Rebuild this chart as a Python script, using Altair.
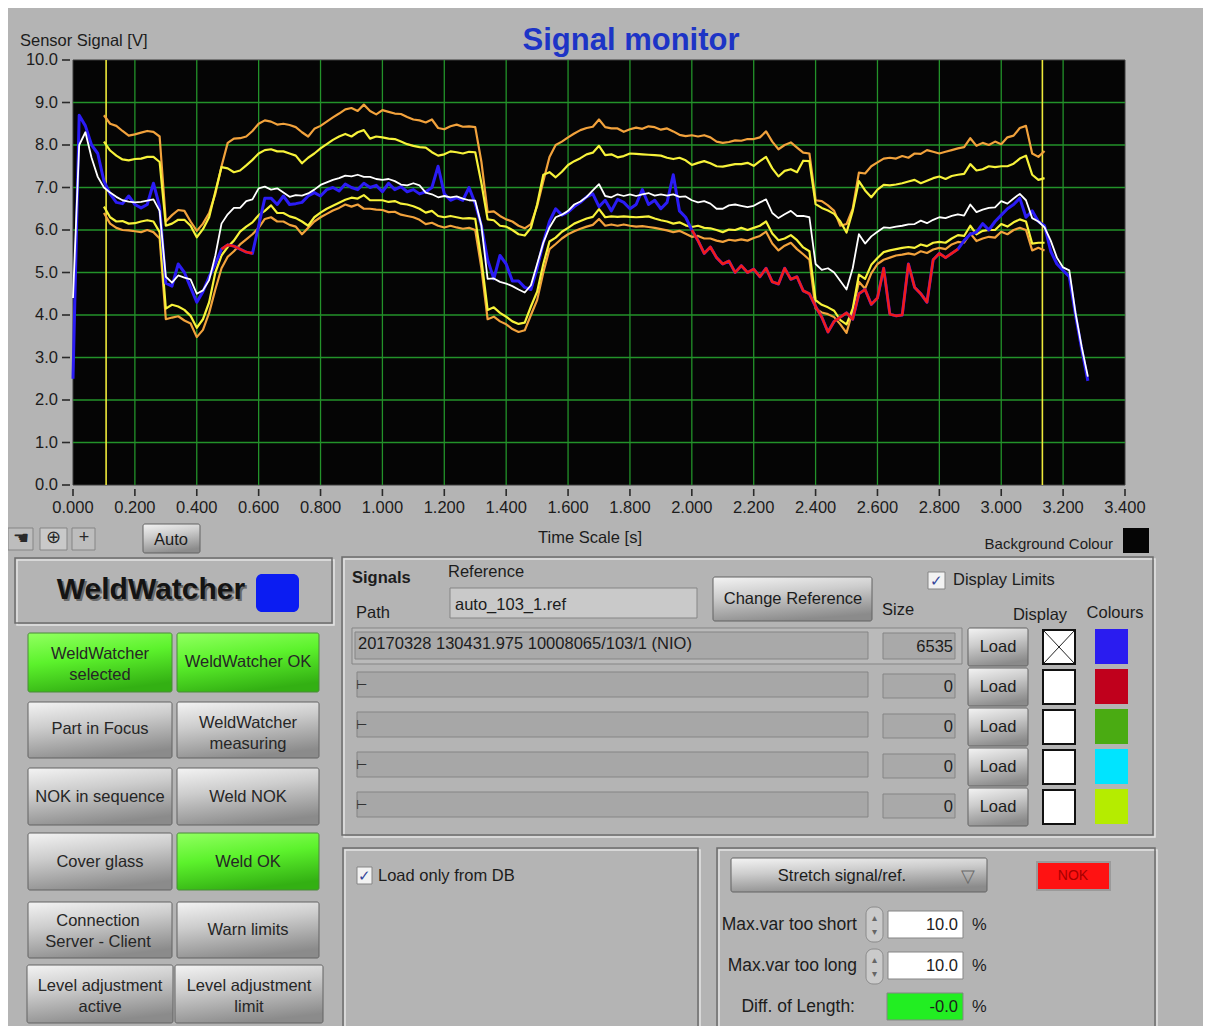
import altair as alt
import pandas as pd

# ---------------- chart values ----------------
T_STEP = 0.02
LIMIT_START = 0.10
SIGNAL_START = 0.00

UPPER_ERROR = [
    8.70, 8.50, 8.45, 8.33, 8.22, 8.25, 8.29, 8.33, 8.31, 8.20,
    6.20, 6.35, 6.47, 6.45, 6.20, 5.98, 6.15, 6.40, 6.85, 7.50,
    8.05, 8.15, 8.16, 8.20, 8.33, 8.50, 8.58, 8.55, 8.48, 8.50,
    8.47, 8.42, 8.30, 8.20, 8.38, 8.45, 8.55, 8.65, 8.74, 8.84,
    8.87, 8.80, 8.95, 8.80, 8.72, 8.82, 8.78, 8.74, 8.73, 8.66,
    8.60, 8.58, 8.53, 8.60, 8.40, 8.37, 8.44, 8.48, 8.43, 8.44,
    8.42, 7.60, 6.42, 6.44, 6.33, 6.25, 6.20, 6.10, 6.04, 6.14,
    6.56, 7.15, 7.72, 8.00, 8.08, 8.18, 8.27, 8.35, 8.40, 8.43,
    8.60, 8.42, 8.39, 8.39, 8.31, 8.37, 8.41, 8.38, 8.44, 8.42,
    8.36, 8.39, 8.32, 8.24, 8.21, 8.23, 8.20, 8.23, 8.18, 8.08,
    8.05, 8.07, 8.11, 8.10, 8.14, 8.14, 8.18, 8.32, 8.08, 7.90,
    8.00, 8.06, 7.94, 7.82, 7.80, 6.70, 6.68, 6.58, 6.45, 6.10,
    6.14, 6.50, 7.35, 7.33, 7.50, 7.59, 7.68, 7.70, 7.68, 7.74,
    7.70, 7.80, 7.79, 7.88, 7.84, 7.80, 7.84, 7.88, 7.92, 7.95,
    8.16, 7.98, 8.05, 8.00, 8.08, 8.02, 8.18, 8.22, 8.40, 8.45,
    7.80, 7.72, 7.86]

UPPER_WARN = [
    8.08, 7.87, 7.75, 7.66, 7.64, 7.67, 7.68, 7.72, 7.72, 7.60,
    6.10, 6.15, 6.24, 6.24, 6.10, 5.83, 6.02, 6.30, 6.90, 7.48,
    7.45, 7.36, 7.40, 7.52, 7.65, 7.80, 7.88, 7.90, 7.85, 7.85,
    7.80, 7.75, 7.57, 7.70, 7.80, 7.92, 8.02, 8.12, 8.20, 8.26,
    8.20, 8.30, 8.35, 8.15, 8.20, 8.18, 8.15, 8.14, 8.08, 8.02,
    7.98, 7.95, 7.94, 7.83, 7.75, 7.78, 7.85, 7.83, 7.80, 7.84,
    7.83, 7.10, 6.25, 6.23, 6.10, 6.08, 6.00, 5.90, 5.87, 6.05,
    6.60, 7.30, 7.36, 7.24, 7.37, 7.53, 7.62, 7.69, 7.78, 7.82,
    7.98, 7.76, 7.78, 7.71, 7.74, 7.80, 7.79, 7.78, 7.77, 7.76,
    7.75, 7.70, 7.67, 7.70, 7.64, 7.53, 7.58, 7.62, 7.57, 7.50,
    7.49, 7.52, 7.55, 7.55, 7.58, 7.51, 7.62, 7.72, 7.45, 7.26,
    7.39, 7.43, 7.36, 7.63, 7.62, 6.61, 6.52, 6.46, 6.38, 6.20,
    5.94, 6.45, 7.15, 6.93, 6.77, 6.95, 7.06, 7.05, 7.07, 7.10,
    7.14, 7.18, 7.10, 7.16, 7.22, 7.26, 7.20, 7.27, 7.30, 7.32,
    7.55, 7.40, 7.43, 7.50, 7.48, 7.50, 7.50, 7.56, 7.68, 7.75,
    7.30, 7.18, 7.22]

LOWER_WARN = [
    6.55, 6.30, 6.20, 6.21, 6.15, 6.16, 6.20, 6.23, 6.20, 5.95,
    4.15, 4.24, 4.20, 4.12, 3.98, 3.70, 3.90, 4.30, 5.00, 5.40,
    5.60, 5.75, 5.96, 6.08, 6.18, 6.35, 6.45, 6.58, 6.40, 6.40,
    6.32, 6.28, 6.20, 6.10, 6.30, 6.41, 6.50, 6.57, 6.64, 6.71,
    6.76, 6.74, 6.82, 6.70, 6.70, 6.70, 6.66, 6.68, 6.62, 6.60,
    6.56, 6.50, 6.41, 6.45, 6.33, 6.30, 6.33, 6.30, 6.27, 6.28,
    6.26, 5.30, 4.12, 4.18, 4.05, 3.96, 3.85, 3.79, 3.82, 4.20,
    4.55, 5.20, 5.73, 5.82, 5.96, 6.05, 6.15, 6.21, 6.27, 6.31,
    6.49, 6.30, 6.32, 6.31, 6.32, 6.31, 6.30, 6.31, 6.32, 6.27,
    6.23, 6.20, 6.15, 6.18, 6.11, 6.07, 6.10, 6.05, 6.04, 6.00,
    5.95, 6.01, 6.00, 6.05, 6.00, 6.05, 6.10, 6.20, 5.92, 5.76,
    5.80, 5.88, 5.76, 5.59, 5.50, 4.35, 4.24, 4.18, 4.10, 3.88,
    3.78, 4.15, 4.95, 4.85, 5.18, 5.34, 5.48, 5.52, 5.55, 5.58,
    5.60, 5.58, 5.66, 5.62, 5.70, 5.72, 5.70, 5.80, 5.88, 5.86,
    6.10, 5.90, 5.98, 6.00, 6.00, 6.14, 6.08, 6.18, 6.25, 6.20,
    5.68, 5.70, 5.70]

LOWER_ERROR = [
    6.40, 6.15, 6.05, 6.00, 5.99, 5.97, 5.95, 6.00, 5.95, 5.80,
    3.90, 3.94, 3.97, 3.87, 3.80, 3.48, 3.65, 4.05, 4.60, 5.10,
    5.37, 5.50, 5.66, 5.78, 5.90, 6.05, 6.26, 6.30, 6.20, 6.20,
    6.12, 6.08, 5.90, 6.05, 6.20, 6.30, 6.38, 6.46, 6.52, 6.60,
    6.55, 6.60, 6.50, 6.50, 6.48, 6.47, 6.42, 6.43, 6.36, 6.33,
    6.30, 6.24, 6.14, 6.17, 6.10, 6.06, 6.10, 6.06, 6.03, 6.05,
    6.00, 5.10, 3.90, 3.96, 3.85, 3.78, 3.67, 3.60, 3.64, 4.00,
    4.35, 5.00, 5.55, 5.67, 5.80, 5.90, 5.97, 6.03, 6.08, 6.12,
    6.26, 6.10, 6.13, 6.10, 6.13, 6.10, 6.08, 6.09, 6.07, 6.05,
    6.02, 5.99, 5.95, 5.98, 5.91, 5.84, 5.86, 5.80, 5.80, 5.75,
    5.72, 5.77, 5.75, 5.78, 5.75, 5.81, 5.86, 5.96, 5.68, 5.52,
    5.63, 5.70, 5.55, 5.43, 5.30, 4.15, 4.06, 4.02, 3.95, 3.78,
    3.58, 4.10, 4.78, 4.62, 4.98, 5.20, 5.30, 5.35, 5.40, 5.42,
    5.45, 5.42, 5.50, 5.46, 5.54, 5.58, 5.55, 5.66, 5.72, 5.70,
    5.92, 5.74, 5.80, 5.84, 5.82, 5.96, 5.90, 6.00, 6.05, 6.00,
    5.52, 5.58, 5.52]

REFERENCE = [
    4.40, 8.00, 8.30, 7.70, 7.25, 7.00, 6.88, 6.78, 6.70, 6.67,
    6.65, 6.66, 6.69, 6.72, 6.45, 4.90, 4.76, 4.93, 4.88, 4.84,
    4.50, 4.58, 4.82, 5.40, 6.15, 6.37, 6.52, 6.52, 6.68, 6.72,
    6.98, 7.02, 6.95, 6.98, 6.88, 6.78, 6.82, 6.81, 6.86, 6.95,
    7.06, 7.12, 7.18, 7.22, 7.28, 7.26, 7.30, 7.25, 7.25, 7.20,
    7.18, 7.20, 7.15, 7.07, 7.05, 7.10, 7.05, 6.88, 6.84, 6.77,
    6.80, 6.77, 6.79, 6.74, 6.70, 6.69, 6.10, 4.85, 4.86, 4.78,
    4.74, 4.68, 4.60, 4.53, 4.70, 5.20, 5.70, 6.06, 6.30, 6.36,
    6.45, 6.60, 6.67, 6.78, 6.93, 7.08, 6.80, 6.77, 6.84, 6.80,
    6.84, 6.80, 6.84, 6.87, 6.81, 6.84, 6.81, 6.84, 6.78, 6.79,
    6.70, 6.65, 6.68, 6.62, 6.50, 6.50, 6.58, 6.60, 6.57, 6.54,
    6.57, 6.65, 6.72, 6.40, 6.28, 6.37, 6.45, 6.33, 6.33, 6.30,
    5.20, 5.06, 5.10, 5.00, 4.80, 4.60, 5.10, 5.90, 5.68, 5.85,
    5.96, 6.06, 6.05, 6.08, 6.10, 6.13, 6.14, 6.22, 6.16, 6.24,
    6.30, 6.28, 6.33, 6.37, 6.34, 6.60, 6.42, 6.48, 6.52, 6.53,
    6.68, 6.62, 6.74, 6.85, 6.70, 6.28, 6.20, 6.06, 5.75, 5.35,
    5.12, 5.05, 4.05, 3.25, 2.55]

SIGNAL = [
    2.50, 8.70, 8.45, 8.00, 7.80, 7.15, 6.85, 6.65, 6.62, 6.80,
    6.60, 6.52, 6.60, 7.10, 6.55, 4.75, 4.68, 5.20, 5.00, 4.65,
    4.30, 4.55, 4.90, 5.20, 5.55, 5.65, 5.62, 5.55, 5.48, 5.45,
    6.10, 6.75, 6.75, 6.60, 6.80, 6.60, 6.62, 6.65, 6.80, 6.88,
    6.80, 6.95, 7.00, 6.92, 7.08, 7.00, 6.95, 7.10, 7.00, 7.05,
    6.90, 7.10, 6.95, 7.02, 6.90, 6.95, 6.85, 6.90, 7.00, 7.50,
    6.85, 6.70, 6.76, 6.70, 7.00, 6.62, 6.10, 5.30, 4.85, 5.40,
    5.20, 4.80, 4.80, 4.65, 4.60, 5.10, 5.70, 6.20, 6.50, 6.35,
    6.42, 6.55, 6.65, 6.78, 6.85, 6.55, 6.70, 6.45, 6.72, 6.65,
    6.50, 6.60, 6.95, 6.60, 6.70, 6.50, 6.65, 7.30, 6.45, 6.30,
    6.00, 5.75, 5.45, 5.60, 5.35, 5.20, 5.27, 5.00, 5.16, 5.00,
    5.08, 4.90, 5.10, 4.78, 4.73, 5.10, 4.84, 4.90, 4.57, 4.50,
    4.20, 3.95, 3.60, 3.85, 3.95, 4.05, 3.90, 4.50, 4.60, 4.25,
    4.40, 5.10, 4.02, 3.98, 4.00, 5.20, 4.65, 4.50, 4.30, 5.30,
    5.45, 5.35, 5.45, 5.55, 5.75, 5.90, 5.95, 6.15, 6.00, 6.20,
    6.35, 6.50, 6.60, 6.75, 6.30, 6.45, 6.20, 6.10, 5.50, 5.20,
    5.05, 4.90, 4.00, 3.20, 2.45]

NOK_SPANS = [(0.48, 0.58), (2.00, 2.86)]
LIMIT_MARKERS = [0.107, 3.133]

X_TICKS = [0.0, 0.2, 0.4, 0.6, 0.8, 1.0, 1.2, 1.4, 1.6, 1.8,
           2.0, 2.2, 2.4, 2.6, 2.8, 3.0, 3.2, 3.4]
X_TICK_LABELS = ["0.000", "0.200", "0.400", "0.600", "0.800", "1.000",
                 "1.200", "1.400", "1.600", "1.800", "2.000", "2.200",
                 "2.400", "2.600", "2.800", "3.000", "3.200", "3.400"]
Y_TICKS = [0.0, 1.0, 2.0, 3.0, 4.0, 5.0, 6.0, 7.0, 8.0, 9.0, 10.0]
Y_TICK_LABELS = ["0.0", "1.0", "2.0", "3.0", "4.0", "5.0",
                 "6.0", "7.0", "8.0", "9.0", "10.0"]

# ---------------- layout ----------------
W, H = 1195, 1018
OFF = 8
FONT = "Liberation Sans"
PLOT_LEFT, PLOT_RIGHT, PLOT_TOP, PLOT_BOTTOM = 73, 1125, 60, 485
LINE_H = 21

xs = alt.Scale(domain=[0, 3.4], range=[PLOT_LEFT - OFF, PLOT_RIGHT - OFF], nice=False, zero=False)
ys = alt.Scale(domain=[0, 10], range=[PLOT_BOTTOM - OFF, PLOT_TOP - OFF], nice=False, zero=False)
px = alt.Scale(domain=[0, W], range=[0, W], nice=False, zero=False)
py = alt.Scale(domain=[0, H], range=[0, H], nice=False, zero=False)


def tx(f):
    return alt.X(f"{f}:Q", scale=xs, axis=None)


def ty(f):
    return alt.Y(f"{f}:Q", scale=ys, axis=None)


def ux(f):
    return alt.X(f"{f}:Q", scale=px, axis=None)


def uy(f):
    return alt.Y(f"{f}:Q", scale=py, axis=None)


def series(values, start):
    return pd.DataFrame({"t": [round(start + i * T_STEP, 3) for i in range(len(values))],
                         "v": values})


# ---------------- signal monitor ----------------
sig_df = series(SIGNAL, SIGNAL_START)
red_parts = []
for k, (a, b) in enumerate(NOK_SPANS):
    part = sig_df[(sig_df.t >= a - 1e-9) & (sig_df.t <= b + 1e-9)].copy()
    part["seg"] = k
    red_parts.append(part)
red_df = pd.concat(red_parts)

plot_bg = alt.Chart(pd.DataFrame({"t0": [0.0], "t1": [3.4], "v0": [0.0], "v1": [10.0]})).mark_rect(
    color="#050505", stroke="#3c3c3c", strokeWidth=1).encode(x=tx("t0"), x2="t1", y=ty("v0"), y2="v1")

GRID = "#23922a"
vgrid = alt.Chart(pd.DataFrame({"t": X_TICKS[1:-1], "v0": 0.0, "v1": 10.0})).mark_rule(
    color=GRID, strokeWidth=1.3).encode(x=tx("t"), y=ty("v0"), y2="v1")
hgrid = alt.Chart(pd.DataFrame({"v": Y_TICKS[1:-1], "t0": 0.0, "t1": 3.4})).mark_rule(
    color=GRID, strokeWidth=1.3).encode(y=ty("v"), x=tx("t0"), x2="t1")
markers = alt.Chart(pd.DataFrame({"t": LIMIT_MARKERS, "v0": 0.0, "v1": 10.0})).mark_rule(
    color="#efe93a", strokeWidth=1.6).encode(x=tx("t"), y=ty("v0"), y2="v1")


def line(df, color, width):
    return alt.Chart(df).mark_line(color=color, strokeWidth=width, strokeJoin="round").encode(
        x=tx("t"), y=ty("v"))


ORANGE = "#f2a23c"
YELLOW = "#f7f23a"
lines = [
    line(series(UPPER_ERROR, LIMIT_START), ORANGE, 2.2),
    line(series(LOWER_ERROR, LIMIT_START), ORANGE, 2.2),
    line(series(UPPER_WARN, LIMIT_START), YELLOW, 2.2),
    line(series(LOWER_WARN, LIMIT_START), YELLOW, 2.2),
    line(sig_df, "#2b1cf5", 3.0),
    alt.Chart(red_df).mark_line(color="#f21a1a", strokeWidth=2.6, strokeJoin="round").encode(
        x=tx("t"), y=ty("v"), detail="seg:N"),
    line(series(REFERENCE, SIGNAL_START), "#ffffff", 1.8),
]

xt_df = pd.DataFrame({"t": X_TICKS, "lab": X_TICK_LABELS})
yt_df = pd.DataFrame({"v": Y_TICKS, "lab": Y_TICK_LABELS})
x_ticks = alt.Chart(xt_df).mark_rule(color="#2a2a2a", strokeWidth=1.6).encode(
    x=tx("t"), y=alt.value(PLOT_BOTTOM - OFF + 4), y2=alt.value(PLOT_BOTTOM - OFF + 11))
x_labels = alt.Chart(xt_df).mark_text(font=FONT, fontSize=16.5, color="#1c1c1c", baseline="middle").encode(
    x=tx("t"), y=alt.value(508 - OFF), text="lab:N")
y_ticks = alt.Chart(yt_df).mark_rule(color="#2a2a2a", strokeWidth=1.6).encode(
    y=ty("v"), x=alt.value(62 - OFF), x2=alt.value(70 - OFF))
y_labels = alt.Chart(yt_df).mark_text(font=FONT, fontSize=16.5, color="#1c1c1c", baseline="middle",
                                      align="right").encode(
    y=ty("v"), x=alt.value(58 - OFF), text="lab:N")

signal_layer = alt.layer(plot_bg, vgrid, hgrid, markers, *lines, x_ticks, x_labels, y_ticks, y_labels)


# ---------------- instrument panel (pixel space) ----------------
def boxes(rows, use_fill=True, **mark):
    df = pd.DataFrame(rows, columns=["x1", "y1", "x2", "y2", "fill"])
    for c in ("x1", "y1", "x2", "y2"):
        df[c] = df[c] - OFF
    enc = dict(x=ux("x1"), x2="x2", y=uy("y1"), y2="y2")
    if use_fill:
        enc["color"] = alt.Color("fill:N", scale=None)
    return alt.Chart(df).mark_rect(**mark).encode(**enc)


def labels(rows, **mark):
    df = pd.DataFrame(rows, columns=["x", "y", "txt"])
    df["x"] = df["x"] - OFF
    # multi-line texts: centre the whole block on y
    df["y"] = [y - OFF - (t.count("\n") * LINE_H) / 2 for y, t in zip(df["y"], df["txt"])]
    base = dict(font=FONT, fontSize=16.5, color="#1c1c1c", baseline="middle", align="left")
    base.update(mark)
    return alt.Chart(df).mark_text(**base).encode(x=ux("x"), y=uy("y"), text="txt:N")


def segments(rows, **mark):
    df = pd.DataFrame(rows, columns=["x1", "y1", "x2", "y2"])
    for c in ("x1", "y1", "x2", "y2"):
        df[c] = df[c] - OFF
    return alt.Chart(df).mark_rule(**mark).encode(x=ux("x1"), y=uy("y1"), x2="x2", y2="y2")


GRAY_BTN = alt.LinearGradient(
    gradient="linear",
    stops=[alt.GradientStop(color="#f0f0f0", offset=0),
           alt.GradientStop(color="#cdcdcd", offset=0.4),
           alt.GradientStop(color="#8b8b8b", offset=1)],
    x1=0.15, y1=0, x2=0.45, y2=1)
GREEN_BTN = alt.LinearGradient(
    gradient="linear",
    stops=[alt.GradientStop(color="#8dff5c", offset=0),
           alt.GradientStop(color="#5cf22c", offset=0.45),
           alt.GradientStop(color="#33b013", offset=1)],
    x1=0.15, y1=0, x2=0.45, y2=1)

FRAMES = [(15, 558, 333, 624), (342, 557, 1154, 836), (343, 848, 699, 1050), (717, 848, 1156, 1050)]
frame_light = boxes([(a + 2, b + 2, c + 1, d + 1, "") for a, b, c, d in FRAMES], use_fill=False,
                    fillOpacity=0, stroke="#e4e4e4", strokeWidth=1.5)
frame_dark = boxes([(a, b, c - 1, d - 1, "") for a, b, c, d in FRAMES], use_fill=False,
                   fillOpacity=0, stroke="#6c6c6c", strokeWidth=1.5)

gray_buttons = boxes([
    (143, 524, 200, 553, ""), (713, 577, 872, 621, ""),
    (968, 628, 1028, 666, ""), (968, 668, 1028, 706, ""), (968, 708, 1028, 746, ""),
    (968, 748, 1028, 786, ""), (968, 788, 1028, 826, ""),
    (731, 858, 987, 892, ""),
    (28, 702, 172, 758, ""), (177, 702, 319, 758, ""),
    (28, 768, 172, 825, ""), (177, 768, 319, 825, ""),
    (28, 833, 172, 890, ""),
    (28, 902, 172, 958, ""), (177, 902, 319, 958, ""),
    (27, 965, 173, 1023, ""), (175, 965, 323, 1023, ""),
], use_fill=False, fill=GRAY_BTN, stroke="#626262", strokeWidth=1, cornerRadius=2)

green_buttons = boxes([
    (28, 633, 172, 692, ""), (177, 633, 319, 692, ""), (177, 833, 319, 890, ""),
], use_fill=False, fill=GREEN_BTN, stroke="#4a8a3a", strokeWidth=1, cornerRadius=2)

plain_boxes = boxes([
    (8, 528, 33, 550, "#bdbdbd"), (40, 528, 67, 550, "#c9c9c9"), (72, 528, 95, 550, "#bdbdbd"),
    (450, 588, 697, 618, "#c9c9c9"),
    (352, 628, 962, 664, "#bababa"),
    (355, 632, 868, 659, "#a9a9a9"),
    (357, 672, 868, 697, "#a7a7a7"), (357, 712, 868, 737, "#a7a7a7"),
    (357, 752, 868, 777, "#a7a7a7"), (357, 792, 868, 817, "#a7a7a7"),
    (883, 633, 955, 659, "#a9a9a9"), (883, 674, 955, 698, "#a9a9a9"), (883, 714, 955, 738, "#a9a9a9"),
    (883, 754, 955, 778, "#a9a9a9"), (883, 794, 955, 818, "#a9a9a9"),
    (928, 572, 945, 589, "#f2f2f2"), (357, 867, 372, 884, "#f2f2f2"),
    (888, 911, 963, 938, "#ffffff"), (888, 952, 963, 979, "#ffffff"), (887, 993, 963, 1020, "#22ee22"),
], stroke="#858585", strokeWidth=1)

display_boxes = boxes([
    (1043, 630, 1075, 664, "#ffffff"), (1043, 670, 1075, 704, "#ffffff"), (1043, 710, 1075, 744, "#ffffff"),
    (1043, 750, 1075, 784, "#ffffff"), (1043, 790, 1075, 824, "#ffffff"),
], stroke="#111111", strokeWidth=2)

solid_boxes = boxes([
    (1123, 528, 1149, 553, "#050505"),
    (1095, 629, 1128, 664, "#2a1cf0"), (1095, 669, 1128, 704, "#c0001c"),
    (1095, 709, 1128, 744, "#4aab12"), (1095, 749, 1128, 784, "#00e4ff"),
    (1095, 789, 1128, 824, "#b5ec00"),
])

nok_box = boxes([(1037, 862, 1110, 890, "#ff1212")], stroke="#9a9a9a", strokeWidth=2)
blue_mark = boxes([(256, 574, 299, 612, "#0b1cf2")], cornerRadius=6)
spinners = boxes([(866, 907, 883, 942, "#cacaca"), (866, 949, 883, 984, "#cacaca")],
                 stroke="#8a8a8a", strokeWidth=1, cornerRadius=7)

cross = segments([(1044, 631, 1074, 663), (1044, 663, 1074, 631)], color="#222222", strokeWidth=1)

text_parts = [
    labels([(20, 41, "Sensor Signal [V]")]),
    labels([(631, 50, "Signal monitor")], align="center", baseline="alphabetic", fontSize=31,
           fontWeight="bold", color="#1d34c6"),
    labels([(590, 538, "Time Scale [s]")], align="center"),
    labels([(1113, 544, "Background Colour")], align="right", fontSize=15),
    labels([(171, 540, "Auto")], align="center"),
    labels([(21, 539, "☚"), (53, 538, "⊕"), (84, 538, "+")], align="center", fontSize=18, color="#2a2a2a"),
    labels([(153, 592, "WeldWatcher")], align="center", fontSize=30, fontWeight="bold", color="#6a6a6a"),
    labels([(151, 590, "WeldWatcher")], align="center", fontSize=30, fontWeight="bold", color="#141414"),
    labels([
        (100, 664, "WeldWatcher\nselected"), (248, 662, "WeldWatcher OK"),
        (100, 729, "Part in Focus"), (248, 733, "WeldWatcher\nmeasuring"),
        (100, 797, "NOK in sequence"), (248, 797, "Weld NOK"),
        (100, 862, "Cover glass"), (248, 862, "Weld OK"),
        (98, 931, "Connection\nServer - Client"), (248, 930, "Warn limits"),
        (100, 996, "Level adjustment\nactive"), (249, 996, "Level adjustment\nlimit"),
    ], align="center", lineBreak="\n", lineHeight=LINE_H, color="#262626"),
    labels([(352, 578, "Signals")], fontWeight="bold"),
    labels([(448, 572, "Reference"), (356, 613, "Path"), (455, 605, "auto_103_1.ref"),
            (953, 580, "Display Limits"), (882, 610, "Size"),
            (358, 644, "20170328 130431.975 10008065/103/1 (NIO)"),
            (378, 876, "Load only from DB")]),
    labels([(793, 599, "Change Reference"), (1040, 615, "Display"), (1115, 613, "Colours"),
            (998, 647, "Load"), (998, 687, "Load"), (998, 727, "Load"), (998, 767, "Load"),
            (998, 807, "Load"), (842, 876, "Stretch signal/ref.")], align="center"),
    labels([(953, 647, "6535"), (953, 687, "0"), (953, 727, "0"), (953, 767, "0"), (953, 807, "0"),
            (958, 925, "10.0"), (958, 966, "10.0"), (958, 1007, "-0.0")], align="right"),
    labels([(857, 925, "Max.var too short"), (857, 966, "Max.var too long"),
            (855, 1007, "Diff. of Length:")], align="right", fontSize=17.5),
    labels([(972, 925, "%"), (972, 966, "%"), (972, 1007, "%")]),
    labels([(1073, 876, "NOK")], align="center", fontSize=14, color="#a80000"),
    labels([(968, 877, "▽")], align="center", fontSize=18, color="#6a6a6a"),
    labels([(936.5, 581, "✓"), (364.5, 876, "✓")], align="center", fontSize=15, color="#34469a"),
    labels([(356, 685, "⊢"), (356, 725, "⊢"), (356, 765, "⊢"), (356, 805, "⊢")], fontSize=13,
           color="#333333"),
    labels([(874.5, 918, "▴"), (874.5, 932, "▾"), (874.5, 960, "▴"), (874.5, 974, "▾")],
           align="center", fontSize=10, color="#666666"),
]

ui_layer = alt.layer(frame_light, frame_dark, plain_boxes, gray_buttons, green_buttons, display_boxes,
                     solid_boxes, nok_box, blue_mark, spinners, cross, *text_parts)

chart = alt.layer(ui_layer, signal_layer).resolve_scale(
    x="independent", y="independent"
).properties(
    width=W, height=H, background="#b4b4b4", padding=0,
    autosize=alt.AutoSizeParams(type="none"),
).configure_view(stroke=None)

chart.save("out.html", embed_options={"renderer": "svg", "actions": False})
